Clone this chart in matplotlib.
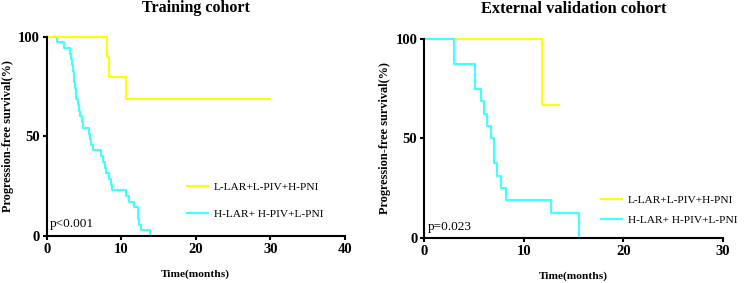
import matplotlib.pyplot as plt

plt.rcParams['font.family'] = ['Liberation Serif', 'DejaVu Serif']

YELLOW = '#FFFF00'
CYAN = '#40FFFF'

labels = ['L-LAR+L-PIV+H-PNI', 'H-LAR+ H-PIV+L-PNI']

# training cohort (step times in months, survival in %)
train_low_t = [0, 8.1, 8.3, 10.7, 30]
train_low_s = [100, 90, 80, 68.6, 68.6]
train_high_t = [0, 1.4, 2.3, 3.1, 3.3, 3.4, 3.5, 3.6, 3.7, 3.8, 3.9, 4.0, 4.2, 4.3,
                4.5, 4.7, 4.9, 5.7, 5.8, 6.0, 6.2, 7.25, 7.5, 7.8, 8.0, 8.4, 8.6,
                8.8, 10.6, 11.1, 11.7, 12.2, 12.3, 12.4, 12.6, 13.8]
train_high_s = [100, 97.1, 94.3, 91.4, 88.6, 85.7, 82.9, 80.0, 77.1, 74.3, 71.4,
                68.6, 65.7, 62.9, 60.0, 57.1, 54.3, 51.4, 48.6, 45.7, 42.9, 40.0,
                37.1, 34.3, 31.4, 28.6, 25.7, 22.9, 20.0, 17.1, 14.3, 11.4, 8.6,
                5.7, 2.9, 0]

# external validation cohort
valid_low_t = [0, 11.8, 13.5]
valid_low_s = [100, 66.7, 66.7]
valid_high_t = [0, 3.0, 5.05, 5.7, 6.0, 6.3, 6.7, 7.0, 7.3, 7.7, 8.2, 12.7, 15.55]
valid_high_s = [100, 87.5, 75, 68.75, 62.5, 56.25, 50, 37.5, 31.25, 25, 18.75, 12.5, 0]


def style_axis(ax, xmax, xpad):
    ax.set_xlim(0, xmax)
    ax.set_ylim(0, 100)
    ax.set_xticks(range(0, xmax + 1, 10))
    ax.set_yticks([0, 50, 100])
    for side in ['top', 'right']:
        ax.spines[side].set_visible(False)
    for side in ['left', 'bottom']:
        ax.spines[side].set_linewidth(1.5)
    ax.tick_params(direction='out', length=3, width=1.5, labelsize=10.5, pad=2)
    for lab in ax.get_xticklabels() + ax.get_yticklabels():
        lab.set_fontweight('bold')
    ax.set_xlabel('Time(months)', fontsize=8.2, fontweight='bold', labelpad=xpad)
    ax.set_ylabel('Progression-free survival(%)', fontsize=8.8, fontweight='bold', labelpad=3)


fig = plt.figure(figsize=(7.49, 2.83), dpi=100)

ax1 = fig.add_axes([0.0623, 0.1661, 0.3983, 0.7042])
ax1.plot(train_high_t, train_high_s, drawstyle='steps-post', color=CYAN, lw=1.5,
         clip_on=False, label=labels[1])
ax1.plot(train_low_t, train_low_s, drawstyle='steps-post', color=YELLOW, lw=1.5,
         clip_on=False, label=labels[0])
style_axis(ax1, 40, 10)
ax1.set_title('Training cohort', fontsize=11.5, fontweight='bold', pad=18)
ax1.text(0.01, 0.03, 'p<0.001', transform=ax1.transAxes, fontsize=9.5, va='bottom')
h, l = ax1.get_legend_handles_labels()
ax1.legend(h[::-1], l[::-1], loc='center left', bbox_to_anchor=(0.435, 0.18),
           frameon=False, fontsize=8.2, handlelength=1.9, handletextpad=0.5,
           labelspacing=1.5)

ax2 = fig.add_axes([0.5665, 0.160, 0.3984, 0.7022])
ax2.plot(valid_low_t, valid_low_s, drawstyle='steps-post', color=YELLOW, lw=1.5,
         clip_on=False, label=labels[0])
ax2.plot(valid_high_t, valid_high_s, drawstyle='steps-post', color=CYAN, lw=1.5,
         clip_on=False, label=labels[1])
style_axis(ax2, 30, 10)
ax2.set_title('External validation cohort', fontsize=11.8, fontweight='bold', pad=19)
ax2.text(0.01, 0.025, 'p=0.023', transform=ax2.transAxes, fontsize=9.5, va='bottom')
ax2.legend(loc='center left', bbox_to_anchor=(0.557, 0.14), frameon=False,
           fontsize=8.2, handlelength=1.9, handletextpad=0.5, labelspacing=0.85)

fig.savefig('out.png', dpi=100)
